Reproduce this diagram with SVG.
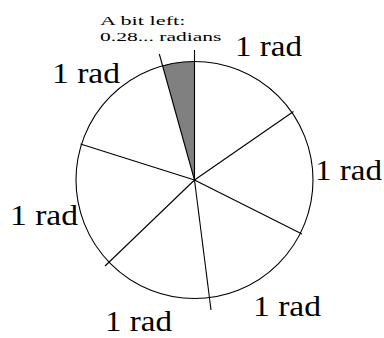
<svg xmlns="http://www.w3.org/2000/svg" width="384" height="338" viewBox="0 0 384 338">
<style>
.lbl{font-family:"Liberation Serif","Times New Roman",serif;font-size:29px;fill:#000}
.sm{font-family:"Liberation Serif","Times New Roman",serif;font-size:13.5px;fill:#000}
.ln{stroke:#000;stroke-width:1.1;fill:none}
</style>
<rect width="384" height="338" fill="#fff"/>
<g id="sector">
<path d="M194.5,180 L162.5,65.5 A118.5,118.5 0 0 1 194.5,61.5 Z" fill="#808080"/>
</g>
<g id="circle">
<circle cx="194.5" cy="180" r="118.5" class="ln"/>
</g>
<g id="connectors">
<line x1="194.5" y1="180" x2="194.5" y2="50" class="ln"/>
<line x1="194.5" y1="180" x2="293.5" y2="111.5" class="ln"/>
<line x1="194.5" y1="180" x2="302" y2="234" class="ln"/>
<line x1="194.5" y1="180" x2="211" y2="310" class="ln"/>
<line x1="194.5" y1="180" x2="105" y2="266" class="ln"/>
<line x1="194.5" y1="180" x2="80.5" y2="144" class="ln"/>
<line x1="194.5" y1="180" x2="159.3" y2="54" class="ln"/>
</g>
<g id="labels">
<text class="lbl" x="235" y="56" textLength="67" lengthAdjust="spacingAndGlyphs">1 rad</text>
<text class="lbl" x="52" y="83" textLength="68" lengthAdjust="spacingAndGlyphs">1 rad</text>
<text class="lbl" x="315" y="180" textLength="67" lengthAdjust="spacingAndGlyphs">1 rad</text>
<text class="lbl" x="10" y="225" textLength="68" lengthAdjust="spacingAndGlyphs">1 rad</text>
<text class="lbl" x="253" y="316" textLength="68" lengthAdjust="spacingAndGlyphs">1 rad</text>
<text class="lbl" x="105" y="331" textLength="67" lengthAdjust="spacingAndGlyphs">1 rad</text>
</g>
<g id="note">
<text class="sm" x="100" y="25" textLength="85.5" lengthAdjust="spacingAndGlyphs">A bit left:</text>
<text class="sm" x="100" y="41" textLength="121.5" lengthAdjust="spacingAndGlyphs">0.28... radians</text>
</g>
</svg>
